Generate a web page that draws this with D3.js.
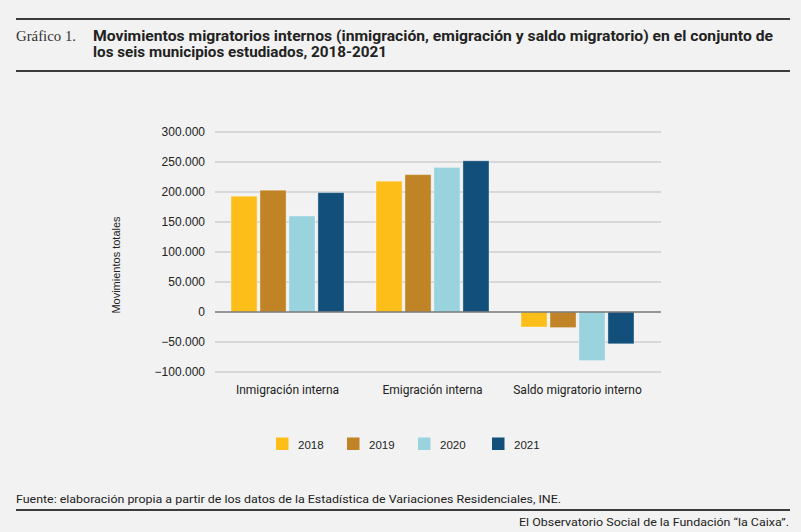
<!DOCTYPE html>
<html><head><meta charset="utf-8">
<script src="https://cdn.jsdelivr.net/npm/d3@7"></script>
<style>
html,body{margin:0;padding:0;background:#f2f2f2;}
svg{display:block;}
</style></head>
<body><svg id="c" width="801" height="532"></svg>
<script>
const categories = ["Inmigración interna", "Emigración interna", "Saldo migratorio interno"];
const years = ["2018", "2019", "2020", "2021"];
const inmigracion = [193000, 203000, 160000, 199000];
const emigracion = [218000, 229000, 241000, 252000];
const saldo = [-25000, -26000, -81000, -53000];
const yTicks = [-100000, -50000, 0, 50000, 100000, 150000, 200000, 250000, 300000];
const colors = ["#fdbe19", "#c08427", "#98d3de", "#124f7a"];

const seriesByCat = [inmigracion, emigracion, saldo];

const svg = d3.select("#c");
svg.append("rect").attr("width",801).attr("height",532).attr("fill","#f2f2f2");

// header
svg.append("rect").attr("x",16).attr("y",18).attr("width",774).attr("height",2).attr("fill","#3c3c3c");
svg.append("rect").attr("x",16).attr("y",70).attr("width",774).attr("height",2).attr("fill","#3c3c3c");
svg.append("text").attr("x",16).attr("y",41).attr("font-family","Liberation Serif, DejaVu Serif, serif")
  .attr("font-size",15).attr("fill","#333").attr("textLength",60).attr("lengthAdjust","spacingAndGlyphs").text("Gráfico 1.");
svg.append("text").attr("x",93).attr("y",41).attr("font-family","Roboto, Liberation Sans, sans-serif")
  .attr("font-weight","bold").attr("font-size",14).attr("fill","#222")
  .attr("textLength",680).attr("lengthAdjust","spacingAndGlyphs")
  .text("Movimientos migratorios internos (inmigración, emigración y saldo migratorio) en el conjunto de");
svg.append("text").attr("x",93).attr("y",57).attr("font-family","Roboto, Liberation Sans, sans-serif")
  .attr("font-weight","bold").attr("font-size",14).attr("fill","#222")
  .attr("textLength",294).attr("lengthAdjust","spacingAndGlyphs")
  .text("los seis municipios estudiados, 2018-2021");

// scales
const y = d3.scaleLinear().domain([-100000, 300000]).range([372, 132]);
const x0 = d3.scaleBand().domain(categories).range([215, 650]).padding(0);
const x1 = d3.scaleBand().domain(years).range([16, 129]).paddingInner(0.1);

// grid
const g = svg.append("g");
g.selectAll("line.grid").data(yTicks.filter(d=>d!==0)).join("line")
  .attr("x1",215).attr("x2",661).attr("y1",d=>y(d)).attr("y2",d=>y(d))
  .attr("stroke","#bdbdbd").attr("stroke-width",1);

// y tick labels
const fmt = d => d===0 ? "0" : d3.format(",")(d).replace(/,/g,".");
g.selectAll("text.yt").data(yTicks).join("text")
  .attr("x",205).attr("y",d=>y(d)).attr("dy","0.35em").attr("text-anchor","end")
  .attr("font-family","Liberation Sans, Arial, sans-serif").attr("font-size",12).attr("fill","#222")
  .text(fmt);

// bars
const groups = svg.append("g").selectAll("g").data(categories).join("g")
  .attr("transform", d=>`translate(${x0(d)},0)`);
groups.selectAll("rect").data((c,i)=>seriesByCat[i].map((v,j)=>({v, yr: years[j], j}))).join("rect")
  .attr("x", d=>x1(d.yr)).attr("width", x1.bandwidth())
  .attr("y", d=>y(Math.max(0,d.v))).attr("height", d=>Math.abs(y(d.v)-y(0)))
  .attr("fill", d=>colors[d.j])
  .attr("stroke","rgba(255,255,255,0.35)").attr("stroke-width",1);

// zero line
svg.append("line").attr("x1",215).attr("x2",661).attr("y1",y(0)).attr("y2",y(0))
  .attr("stroke","#777").attr("stroke-width",1.5);

// category labels
svg.append("g").selectAll("text").data(categories).join("text")
  .attr("x", d=>x0(d)+x0.bandwidth()/2).attr("y",394).attr("text-anchor","middle")
  .attr("font-family","Roboto, Liberation Sans, sans-serif").attr("font-size",12).attr("fill","#222")
  .text(d=>d);

// y axis title
svg.append("text").attr("transform","translate(119.5,265) rotate(-90)").attr("text-anchor","middle")
  .attr("font-family","Liberation Sans, Arial, sans-serif").attr("font-size",11).attr("fill","#222")
  .text("Movimientos totales");

// legend
const legX = [276, 347, 418, 492];
const leg = svg.append("g").selectAll("g").data(years).join("g")
  .attr("transform",(d,i)=>`translate(${legX[i]},437.5)`);
leg.append("rect").attr("width",12.5).attr("height",12.5).attr("fill",(d,i)=>colors[i]);
leg.append("text").attr("x",22).attr("y",11).attr("font-family","Liberation Sans, Arial, sans-serif")
  .attr("font-size",11.5).attr("fill","#222").text(d=>d);

// footer
svg.append("text").attr("x",16).attr("y",503).attr("font-family","Roboto, Liberation Sans, sans-serif")
  .attr("font-size",11).attr("fill","#222").attr("textLength",545).attr("lengthAdjust","spacingAndGlyphs")
  .text("Fuente: elaboración propia a partir de los datos de la Estadística de Variaciones Residenciales, INE.");
svg.append("rect").attr("x",16).attr("y",509).attr("width",774).attr("height",2).attr("fill","#3c3c3c");
svg.append("text").attr("x",789).attr("y",526).attr("text-anchor","end").attr("font-family","Roboto, Liberation Sans, sans-serif")
  .attr("font-size",11).attr("fill","#222").attr("textLength",270).attr("lengthAdjust","spacingAndGlyphs")
  .text("El Observatorio Social de la Fundación “la Caixa”.");
</script></body></html>
